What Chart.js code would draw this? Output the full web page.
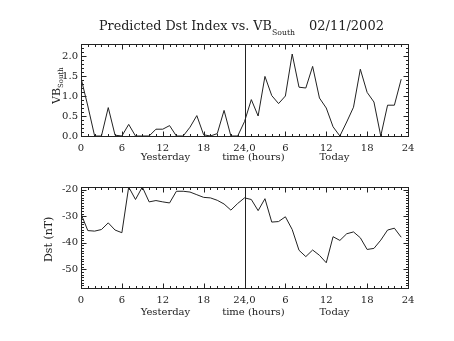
<!DOCTYPE html>
<html>
<head>
<meta charset="utf-8">
<script src="https://cdn.jsdelivr.net/npm/chart.js@4"></script>
<style>
    body { margin: 0; background: #fff; }
    #wrap { position: relative; width: 454px; height: 341px; }
    canvas { position: absolute; left: 0; }
</style>
</head>
<body>
<div id="wrap">
    <canvas id="vbChart" width="454" height="170" style="top:0"></canvas>
    <canvas id="dstChart" width="454" height="171" style="top:170px"></canvas>
</div>
<script>
// hours since 00 UT yesterday (0-23 yesterday, 24-47 today)
const hours = [0, 1, 2, 3, 4, 5, 6, 7, 8, 9, 10, 11, 12, 13, 14, 15, 16, 17, 18, 19, 20, 21, 22, 23,
    24, 25, 26, 27, 28, 29, 30, 31, 32, 33, 34, 35, 36, 37, 38, 39, 40, 41, 42, 43, 44, 45, 46, 47];

const vbSouth = [1.45, 0.75, 0, 0, 0.71, 0.02, 0, 0.29, 0, 0, 0, 0.17, 0.17, 0.26, 0, 0, 0.22, 0.51, 0.03, 0, 0.06, 0.64, 0, 0,
    0.36, 0.91, 0.50, 1.49, 1.01, 0.81, 1.00, 2.05, 1.22, 1.20, 1.74, 0.95, 0.70, 0.23, 0, 0.35, 0.72, 1.67, 1.09, 0.85, 0, 0.77, 0.77, 1.42];

const dst = [-29.1, -35.4, -35.6, -35.0, -32.5, -35.2, -36.2, -19.0, -23.7, -19.0, -24.6, -24.1, -24.6, -25.0, -20.6, -20.6, -20.9, -21.9, -22.9, -23.1, -24.0, -25.4, -27.7, -25.2,
    -23.1, -23.7, -27.9, -23.4, -32.2, -32.0, -30.2, -35.0, -42.8, -45.2, -42.7, -44.7, -47.5, -37.7, -39.1, -36.6, -35.9, -38.1, -42.5, -42.1, -39.0, -35.2, -34.5, -37.9];

const xTickLabels = ['0', '6', '12', '18', '24,0', '6', '12', '18', '24'];
const dayLabels = ['Yesterday', 'time (hours)', 'Today'];
const titleText = 'Predicted Dst Index vs. VB';
const titleSub = 'South';
const titleDate = '02/11/2002';

const FONT = '"DejaVu Serif", "Liberation Serif", serif';
const INK = '#222';

// draw text scaled so it spans the given width
function fitText(ctx, text, x, y, width) {
    ctx.font = `10px ${FONT}`;
    const size = 10 * width / ctx.measureText(text).width;
    ctx.font = `${size}px ${FONT}`;
    ctx.fillText(text, x, y);
}

function seg(ctx, x1, y1, x2, y2) {
    ctx.beginPath();
    ctx.moveTo(x1, y1);
    ctx.lineTo(x2, y2);
    ctx.stroke();
}

// IDL style frame with inward ticks, divider at 24h and the extra axis texts
const idlAxes = {
    id: 'idlAxes',
    afterDraw(chart, args, opts) {
        const { ctx, chartArea: a, scales: { x, y } } = chart;
        ctx.save();
        ctx.strokeStyle = INK;
        ctx.fillStyle = INK;
        ctx.lineWidth = 1;
        const L = Math.round(a.left) + 0.5, R = Math.round(a.right) + 0.5;
        const T = Math.round(a.top) + 0.5, B = Math.round(a.bottom) + 0.5;
        ctx.strokeRect(L, T, R - L, B - T);

        for (let h = 0; h <= 48; h++) {
            const px = Math.round(x.getPixelForValue(h)) + 0.5;
            const len = h % 6 === 0 ? 5 : 2.5;
            seg(ctx, px, B, px, B - len);
            seg(ctx, px, T, px, T + len);
        }

        for (let i = opts.minorFrom; i <= opts.minorTo; i++) {
            const v = i * opts.minorStep;
            const py = Math.round(y.getPixelForValue(v)) + 0.5;
            const len = i % opts.majorEvery === 0 ? 5 : 2.5;
            seg(ctx, L, py, L + len, py);
            seg(ctx, R, py, R - len, py);
        }

        const dx = Math.round(x.getPixelForValue(24)) + 0.5;
        seg(ctx, dx, T, dx, B);

        // second line under the tick labels
        ctx.textBaseline = 'alphabetic';
        ctx.textAlign = 'center';
        ctx.font = `10px ${FONT}`;
        const base = opts.dayBase;
        ctx.fillText(dayLabels[0], x.getPixelForValue(12.4), base);
        ctx.fillText(dayLabels[1], x.getPixelForValue(25.3), base);
        ctx.fillText(dayLabels[2], x.getPixelForValue(37.2), base);

        // rotated y title
        ctx.save();
        ctx.translate(opts.yTitleX, opts.yTitleY);
        ctx.rotate(-Math.PI / 2);
        ctx.textAlign = 'left';
        ctx.font = `11px ${FONT}`;
        ctx.fillText(opts.yTitle, 0, 0);
        if (opts.yTitleSub) {
            const w = ctx.measureText(opts.yTitle).width;
            ctx.font = `7px ${FONT}`;
            ctx.fillText(opts.yTitleSub, w, 3);
        }
        ctx.restore();

        if (opts.showTitle) {
            ctx.textAlign = 'left';
            fitText(ctx, titleText, 99, 30, 173);
            fitText(ctx, titleSub, 272, 35, 23);
            fitText(ctx, titleDate, 309, 30, 75);
        }
        ctx.restore();
    }
};

function xScale(height) {
    return {
        type: 'linear',
        min: 0,
        max: 48,
        afterFit: s => { s.height = height; },
        grid: { display: false, drawTicks: false },
        border: { display: false },
        ticks: {
            stepSize: 6,
            padding: 6,
            maxRotation: 0,
            autoSkip: false,
            color: INK,
            font: { family: FONT, size: 10 },
            callback: v => xTickLabels[v / 6]
        }
    };
}

function buildChart(id, values, yOpts, pad, xHeight, axesOpts) {
    return new Chart(document.getElementById(id), {
        type: 'line',
        data: {
            datasets: [{
                data: hours.map((h, i) => ({ x: h, y: values[i] })),
                borderColor: INK,
                borderWidth: 1,
                pointRadius: 0,
                tension: 0
            }]
        },
        options: {
            responsive: false,
            animation: false,
            layout: { padding: pad },
            plugins: {
                legend: { display: false },
                tooltip: { enabled: false },
                idlAxes: axesOpts
            },
            scales: {
                x: xScale(xHeight),
                y: {
                    min: yOpts.min,
                    max: yOpts.max,
                    afterFit: s => { s.width = 81; },
                    grid: { display: false, drawTicks: false },
                    border: { display: false },
                    ticks: {
                        stepSize: yOpts.step,
                        includeBounds: false,
                        padding: 3,
                        color: INK,
                        font: { family: FONT, size: 10 },
                        callback: yOpts.fmt
                    }
                }
            }
        },
        plugins: [idlAxes]
    });
}

buildChart('vbChart', vbSouth,
    { min: 0, max: 2.3, step: 0.5, fmt: v => v.toFixed(1) },
    { top: 44, right: 46, left: 0, bottom: 0 }, 34,
    { minorFrom: 0, minorTo: 23, minorStep: 0.1, majorEvery: 5, dayBase: 159.5,
      yTitle: 'VB', yTitleSub: 'South', yTitleX: 60, yTitleY: 104, showTitle: true });

buildChart('dstChart', dst,
    { min: -57, max: -19, step: 10, fmt: v => String(v) },
    { top: 17, right: 46, left: 0, bottom: 0 }, 53,
    { minorFrom: -57, minorTo: -19, minorStep: 1, majorEvery: 10, dayBase: 144.5,
      yTitle: 'Dst (nT)', yTitleSub: '', yTitleX: 52, yTitleY: 92, showTitle: false });
</script>
</body>
</html>
